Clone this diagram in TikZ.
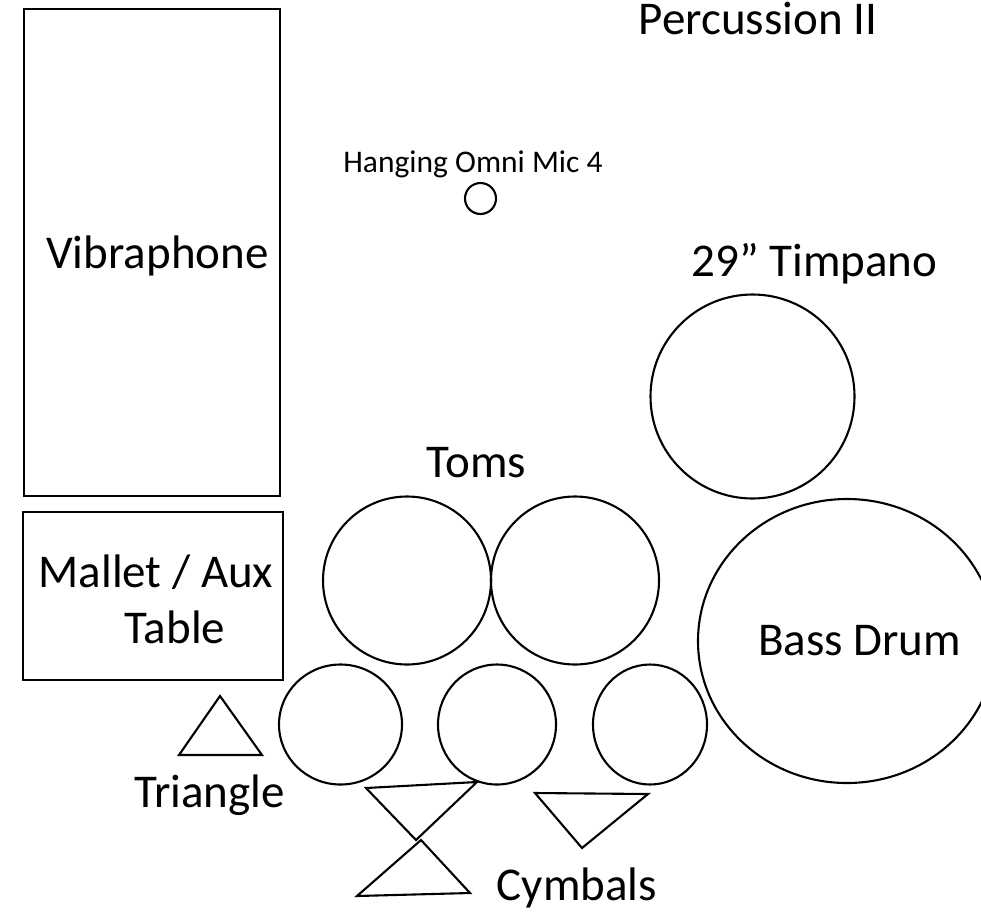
\documentclass[tikz,border=0pt]{standalone}
\usepackage{fontspec}
\setmainfont{Carlito}
\usetikzlibrary{shapes.geometric}

\tikzset{
  outline/.style={draw=black, line width=2.1pt},
  drum/.style={outline, circle, inner sep=0pt},
  oval/.style={outline, ellipse, inner sep=0pt},
  stand/.style={outline, rectangle, inner sep=0pt},
  biglabel/.style={inner sep=0pt, anchor=base, font=\fontsize{47}{56}\selectfont},
  smalllabel/.style={inner sep=0pt, anchor=base, font=\fontsize{31.5}{38}\selectfont},
  cymbal/.style={outline, line join=miter}
}

\begin{document}
\begin{tikzpicture}[x=1pt, y=-1pt]
  \useasboundingbox (0,0) rectangle (981,913);

  % title
  \node[biglabel] (title) at (758,34) {Percussion II};

  % overhead microphone
  \node[smalllabel] (miclabel) at (473,172) {Hanging Omni Mic 4};
  \node[drum, minimum size=31pt] (mic) at (480.5,198.5) {};

  % vibraphone and mallet table
  \node[stand, minimum width=256pt, minimum height=487pt] (vib) at (152,252.5) {};
  \node[biglabel] (viblabel) at (157.5,268) {Vibraphone};
  \node[stand, minimum width=260pt, minimum height=168pt] (table) at (153,596) {};
  \node[biglabel] (tablelabelA) at (156,587) {Mallet / Aux};
  \node[biglabel] (tablelabelB) at (175,643) {Table};

  % timpano
  \node[biglabel] (timplabel) at (814.5,276) {29” Timpano};
  \node[drum, minimum size=204pt] (timp) at (752.5,396.5) {};

  % toms
  \node[biglabel] (tomlabel) at (476.5,477) {Toms};
  \node[drum, minimum size=168pt] (tomA) at (407,580.5) {};
  \node[drum, minimum size=168pt] (tomB) at (575,580.5) {};

  % bass drum
  \node[oval, minimum width=298pt, minimum height=284pt] (bass) at (847,641) {};
  \node[biglabel] (basslabel) at (859.5,655) {Bass Drum};

  % lower drums
  \node[oval, minimum width=123pt, minimum height=120pt] (lowA) at (340.5,724.5) {};
  \node[oval, minimum width=118pt, minimum height=120pt] (lowB) at (497,724.5) {};
  \node[oval, minimum width=114pt, minimum height=120pt] (lowC) at (650,724.5) {};

  % triangle
  \coordinate (triTop) at (220,696);
  \coordinate (triL) at (179,755);
  \coordinate (triR) at (262,755);
  \draw[cymbal] (triTop) -- (triL) -- (triR) -- cycle;
  \node[biglabel] (trilabel) at (209.5,807) {Triangle};

  % cymbals
  \coordinate (cymAl) at (366,788);
  \coordinate (cymAr) at (477,782);
  \coordinate (cymAb) at (416,840);
  \draw[cymbal] (cymAl) -- (cymAr) -- (cymAb) -- cycle;
  \coordinate (cymBt) at (421,840);
  \coordinate (cymBl) at (357,896);
  \coordinate (cymBr) at (470,893);
  \draw[cymbal] (cymBt) -- (cymBl) -- (cymBr) -- cycle;
  \coordinate (cymCl) at (535,793);
  \coordinate (cymCr) at (648,794);
  \coordinate (cymCb) at (582,848);
  \draw[cymbal] (cymCl) -- (cymCr) -- (cymCb) -- cycle;
  \node[biglabel] (cymlabel) at (577,900) {Cymbals};
\end{tikzpicture}
\end{document}
